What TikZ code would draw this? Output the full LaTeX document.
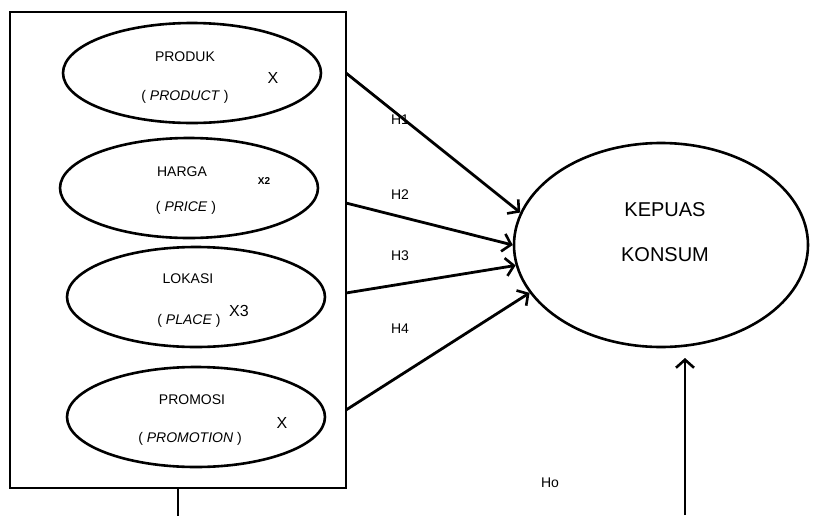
\documentclass[tikz,border=0pt]{standalone}
\usepackage{fontspec}
\setmainfont{Liberation Sans}
\setsansfont{Liberation Sans}
\usetikzlibrary{positioning,arrows.meta,shapes.geometric}

\begin{document}
\begin{tikzpicture}[x=1pt,y=-1pt,
  every node/.style={font=\sffamily\fontsize{14}{16}\selectfont,inner sep=0pt},
  var/.style={ellipse,draw,line width=2.6pt,minimum width=258pt,minimum height=100pt},
  dep/.style={ellipse,draw,line width=2.6pt,minimum width=294pt,minimum height=204pt},
  big/.style={font=\sffamily\fontsize{20}{22}\selectfont},
  idx/.style={font=\sffamily\fontsize{16}{18}\selectfont},
  hyp/.style={line width=2.8pt,-{Straight Barb[length=8pt,width=18pt,line width=2.6pt]}}]
\useasboundingbox (0,0) rectangle (815,515);
\node[draw,line width=2.8pt,minimum width=336pt,minimum height=476pt] (frame) at (178,250) {};
\foreach \i/\cx/\cy in {1/192/73,2/189/188,3/196/297,4/196/417}
  \node[var] (v\i) at (\cx,\cy) {};
% variable texts
\node at (185,57) {PRODUK};
\node at (185,97) {( \textit{PRODUCT} )};
\node[idx] at (273,78) {X};
\node at (182,172) {HARGA};
\node at (186,208) {( \textit{PRICE} )};
\node[font=\sffamily\bfseries\fontsize{10}{12}\selectfont] at (264,181) {X2};
\node at (188,279) {LOKASI};
\node at (189,321) {( \textit{PLACE} )};
\node[idx] at (239,311) {X3};
\node at (192,400) {PROMOSI};
\node at (190,439) {( \textit{PROMOTION} )};
\node[idx] at (282,423) {X};
% dependent variable
\node[dep] (kp) at (661,245) {};
\node[big] at (665,210) {KEPUAS};
\node[big] at (665,255) {KONSUM};
% hypotheses
\foreach \i/\sy/\ang in {1/73/167.6,2/203/180,3/293/188,4/410/200}{
  \coordinate (s\i) at (346,\sy);
  \draw[hyp] (s\i) -- (kp.\ang);
}
\node at (400,120) {H1};
\node at (400,195) {H2};
\node at (400,256) {H3};
\node at (400,329) {H4};
% simultaneous
\draw[line width=2.8pt] (frame.south) -- ++(0,27);
\coordinate (b1) at (685,515);
\coordinate (b2) at (685,358);
\draw[hyp] (b1) -- (b2);
\node at (550,483) {Ho};
\end{tikzpicture}
\end{document}
